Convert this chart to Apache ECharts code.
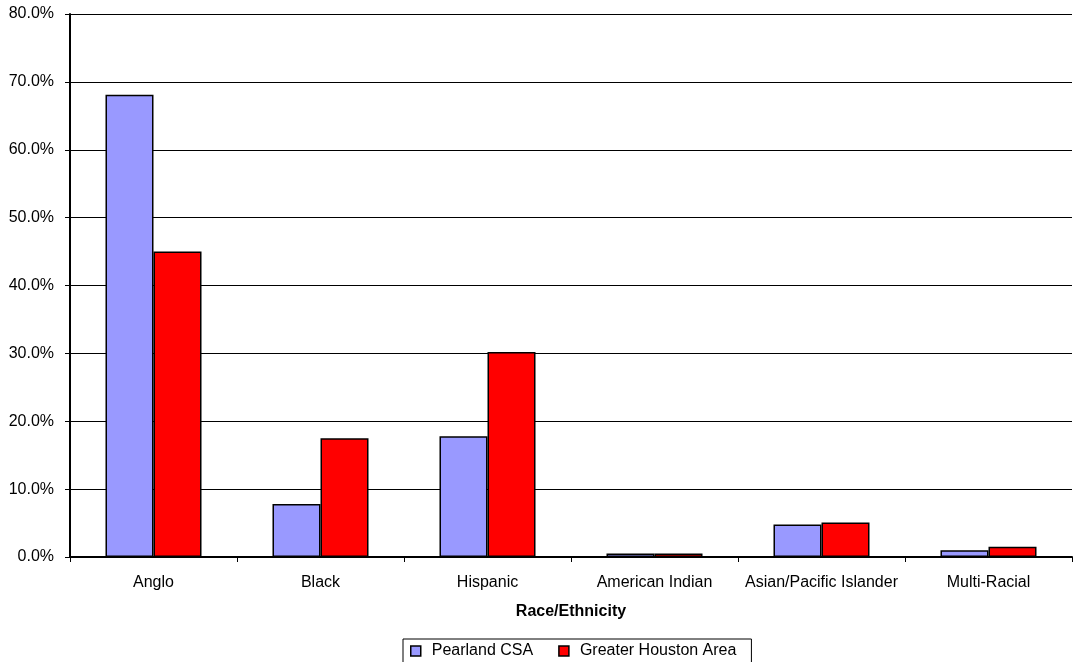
<!DOCTYPE html>
<html><head><meta charset="utf-8">
<script src="https://cdn.jsdelivr.net/npm/echarts@6/dist/echarts.min.js"></script>
<style>html,body{margin:0;padding:0;background:#fff}#c{width:1080px;height:662px}</style>
</head><body><div id="c"></div>
<script>
const categories = ["Anglo","Black","Hispanic","American Indian","Asian/Pacific Islander","Multi-Racial"];
const pearland = [68.1, 7.8, 17.8, 0.5, 4.8, 1.0];
const houston = [45.0, 17.5, 30.2, 0.5, 5.1, 1.5];
const seriesNames = ["Pearland CSA","Greater Houston Area"];
const chart = echarts.init(document.getElementById('c'));
const font = 'Liberation Sans, Arial, sans-serif';
chart.setOption({
  animation:false,
  grid:{left:70,right:8,top:14,bottom:105,containLabel:false},
  legend:{
    top:639,left:403,
    icon:'rect',
    itemWidth:10,itemHeight:10,itemGap:25,
    borderColor:'#000',borderWidth:1,padding:[4,15,10,7],
    textStyle:{fontFamily:font,fontSize:16,color:'#000',padding:[0,0,0,6]},
    data:[{name:seriesNames[0],itemStyle:{borderColor:'#000',borderWidth:1.5}},{name:seriesNames[1],itemStyle:{borderColor:'#000',borderWidth:1.5}}]
  },
  xAxis:{
    type:'category',data:categories,
    name:'Race/Ethnicity',nameLocation:'middle',nameGap:47,
    nameTextStyle:{fontFamily:font,fontSize:16,fontWeight:'bold',color:'#000'},
    axisLine:{lineStyle:{color:'#000',width:2}},
    axisTick:{show:true,length:5,interval:0,lineStyle:{color:'#000'}},
    axisLabel:{fontFamily:font,fontSize:16,color:'#000',margin:18,interval:0}
  },
  yAxis:{
    type:'value',min:0,max:80,interval:10,
    axisLine:{show:true,lineStyle:{color:'#000',width:2}},
    axisTick:{show:true,length:5,inside:false,lineStyle:{color:'#000'}},
    axisLabel:{fontFamily:font,fontSize:16,color:'#000',margin:16,formatter:v=>v.toFixed(1)+'%'},
    splitLine:{lineStyle:{color:'#000',width:1}}
  },
  series:[
    {name:seriesNames[0],type:'bar',data:pearland,barGap:'0%',barCategoryGap:'42.5%',
     itemStyle:{color:'#9999ff',borderColor:'#000',borderWidth:1.5}},
    {name:seriesNames[1],type:'bar',data:houston,barGap:'0%',barCategoryGap:'42.5%',
     itemStyle:{color:'#ff0000',borderColor:'#000',borderWidth:1.5}}
  ]
});
</script></body></html>
